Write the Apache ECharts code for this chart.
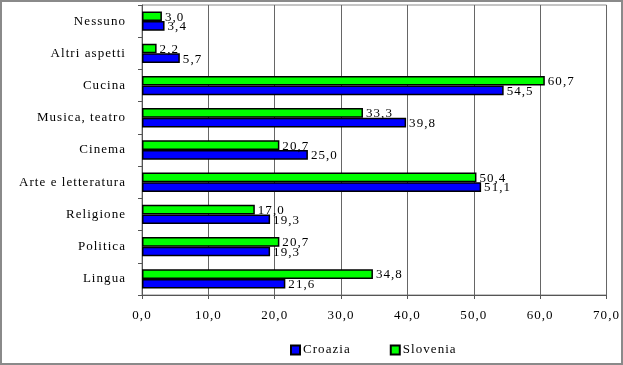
<!DOCTYPE html>
<html><head><meta charset="utf-8">
<script src="https://cdn.jsdelivr.net/npm/echarts@6/dist/echarts.min.js"></script>
<style>
html,body{margin:0;padding:0;background:#fff;}
#c{width:623px;height:365px;}
</style></head>
<body><div id="c"></div>
<script>
const categories = ['Nessuno','Altri aspetti','Cucina','Musica, teatro','Cinema','Arte e letteratura','Religione','Politica','Lingua'];
const croazia = [3.4, 5.7, 54.5, 39.8, 25.0, 51.1, 19.3, 19.3, 21.6];
const slovenia = [3.0, 2.2, 60.7, 33.3, 20.7, 50.4, 17.0, 20.7, 34.8];
const xTicks = [0,10,20,30,40,50,60,70];

(function(){
  const P = CanvasRenderingContext2D.prototype;
  const ft = P.fillText, mt = P.measureText;
  P.fillText = function(){ this.letterSpacing = '1.05px'; return ft.apply(this, arguments); };
  P.measureText = function(){ this.letterSpacing = '1.05px'; return mt.apply(this, arguments); };
})();

const fmt = v => Number(v).toFixed(1).replace('.', ',');
const font = 'Liberation Serif';
const chart = echarts.init(document.getElementById('c'), null, {renderer:'canvas'});
chart.setOption({
  animation:false,
  backgroundColor:'#fff',
  textStyle:{fontFamily:font},
  graphic:[{type:'rect', shape:{x:1,y:1,width:621,height:363}, style:{fill:'none', stroke:'#8a8a8a', lineWidth:2}, silent:true}],
  grid:{left:142, right:16, top:5, bottom:70, show:true, borderColor:'#8a8a8a', borderWidth:1},
  legend:{
    data:['Croazia','Slovenia'], bottom:3, left:285, itemWidth:9, itemHeight:9, itemGap:39,
    icon:'rect',
    textStyle:{fontFamily:font, fontSize:13, color:'#000', padding:[0,0,0,-2]}
  },
  xAxis:{
    type:'value', min:0, max:70, interval:10,
    axisLine:{show:true, lineStyle:{color:'#555'}},
    axisTick:{show:true, length:4, lineStyle:{color:'#555'}},
    axisLabel:{formatter: v => fmt(v), fontFamily:font, fontSize:13, color:'#000', margin:14},
    splitLine:{show:true, lineStyle:{color:'#666', width:1}}
  },
  yAxis:{
    type:'category', data:categories, inverse:true,
    axisLine:{show:true, lineStyle:{color:'#555'}},
    axisTick:{show:true, length:4, inside:false, lineStyle:{color:'#555'}},
    axisLabel:{fontFamily:font, fontSize:13, color:'#000', margin:16}
  },
  series:[
    {name:'Slovenia', type:'bar', data:slovenia, barCategoryGap:'40%', barGap:'0%',
     itemStyle:{color:'#00ff00', borderColor:'#000', borderWidth:1.5},
     label:{show:true, position:'right', distance:3, offset:[0,1], formatter:p=>fmt(p.value), fontFamily:font, fontSize:13, color:'#000'}},
    {name:'Croazia', type:'bar', data:croazia, barCategoryGap:'40%', barGap:'0%',
     itemStyle:{color:'#0000ff', borderColor:'#000', borderWidth:1.5},
     label:{show:true, position:'right', distance:3, offset:[0,1], formatter:p=>fmt(p.value), fontFamily:font, fontSize:13, color:'#000'}}
  ]
});
</script></body></html>
